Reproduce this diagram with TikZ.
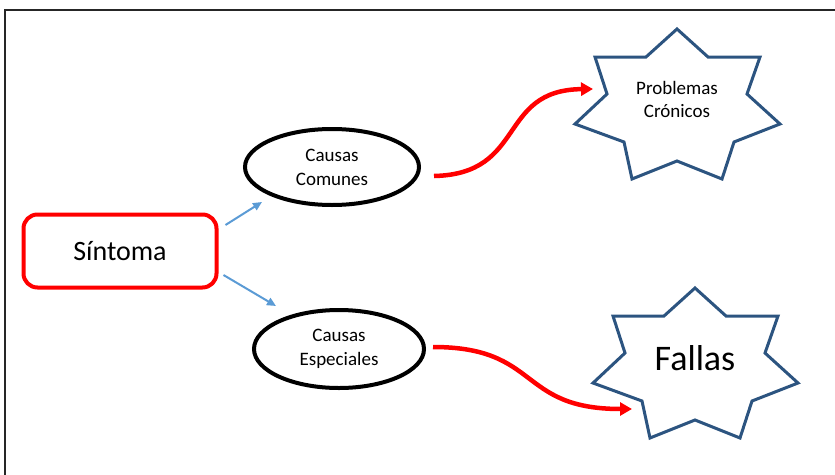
\documentclass[tikz,border=0pt]{standalone}
\usepackage{fontspec}
\setmainfont{Carlito}
\usetikzlibrary{shapes.geometric,arrows.meta}

\definecolor{rojo}{RGB}{255,0,0}
\definecolor{azul}{RGB}{91,155,213}
\definecolor{estrellaazul}{RGB}{44,84,128}

% seven-pointed star drawn around a named coordinate
\newcommand{\estrella}[1]{%
  \draw[estrellaline] ([shift={(0,-75)}]#1) -- ([shift={(31,-47)}]#1) -- ([shift={(83,-47)}]#1)
    -- ([shift={(70,-10)}]#1) -- ([shift={(103,20)}]#1) -- ([shift={(57,38)}]#1)
    -- ([shift={(45,75)}]#1) -- ([shift={(0,57)}]#1) -- ([shift={(-45,75)}]#1)
    -- ([shift={(-53,38)}]#1) -- ([shift={(-102,20)}]#1) -- ([shift={(-70,-10)}]#1)
    -- ([shift={(-82,-47)}]#1) -- ([shift={(-31,-47)}]#1) -- cycle;}

\tikzset{
  causa/.style={ellipse,draw=black,line width=4pt,inner sep=0pt,align=center,
    font=\fontsize{19}{24}\selectfont},
  estrellaline/.style={draw=estrellaazul,line width=3pt,line join=miter},
  flechaazul/.style={draw=azul,line width=2pt,-{Triangle[length=9pt,width=8pt]}},
  flecharoja/.style={draw=rojo,line width=4.5pt,-{Triangle[length=12pt,width=13pt]}}
}

\begin{document}
\begin{tikzpicture}[x=1pt,y=-1pt]
    \useasboundingbox (0,0) rectangle (835,474);
    \draw[line width=1.5pt,black!85] (5,10) rectangle (860,500);

    % stars first, text on top
    \coordinate (centrocron) at (677,104);
    \coordinate (centrofall) at (695,363);
    \estrella{centrocron}
    \estrella{centrofall}

    \node[draw=rojo,line width=4pt,rounded corners=14pt,minimum width=193pt,minimum height=73pt,
      font=\fontsize{28}{34}\selectfont] (sintoma) at (120,251) {Síntoma};

    \node[causa,minimum width=174pt,minimum height=76pt] (comunes) at (332,167) {Causas\\Comunes};
    \node[causa,minimum width=170pt,minimum height=78pt] (especiales) at (339,349) {Causas\\Especiales};

    \node[align=center,font=\fontsize{19}{23}\selectfont] (cronicos) at (677,99) {Problemas\\Crónicos};
    \node[font=\fontsize{36}{40}\selectfont] (fallas) at (695,358) {Fallas};

    \draw[flechaazul] ([shift={(7,-26)}]sintoma.east) -- ([shift={(-70,35)}]comunes.center);
    \draw[flechaazul] ([shift={(5,24)}]sintoma.east) -- ([shift={(-63,-43)}]especiales.center);

    \draw[flecharoja] ([shift={(13,9)}]comunes.east) .. controls ([shift={(106,7)}]comunes.east)
      and ([shift={(-180,-14)}]centrocron) .. ([shift={(-84,-15)}]centrocron);
    \draw[flecharoja] ([shift={(7,-2)}]especiales.east) .. controls ([shift={(115,-2)}]especiales.east)
      and ([shift={(-178,46)}]centrofall) .. ([shift={(-63,46)}]centrofall);
  \end{tikzpicture}
\end{document}
